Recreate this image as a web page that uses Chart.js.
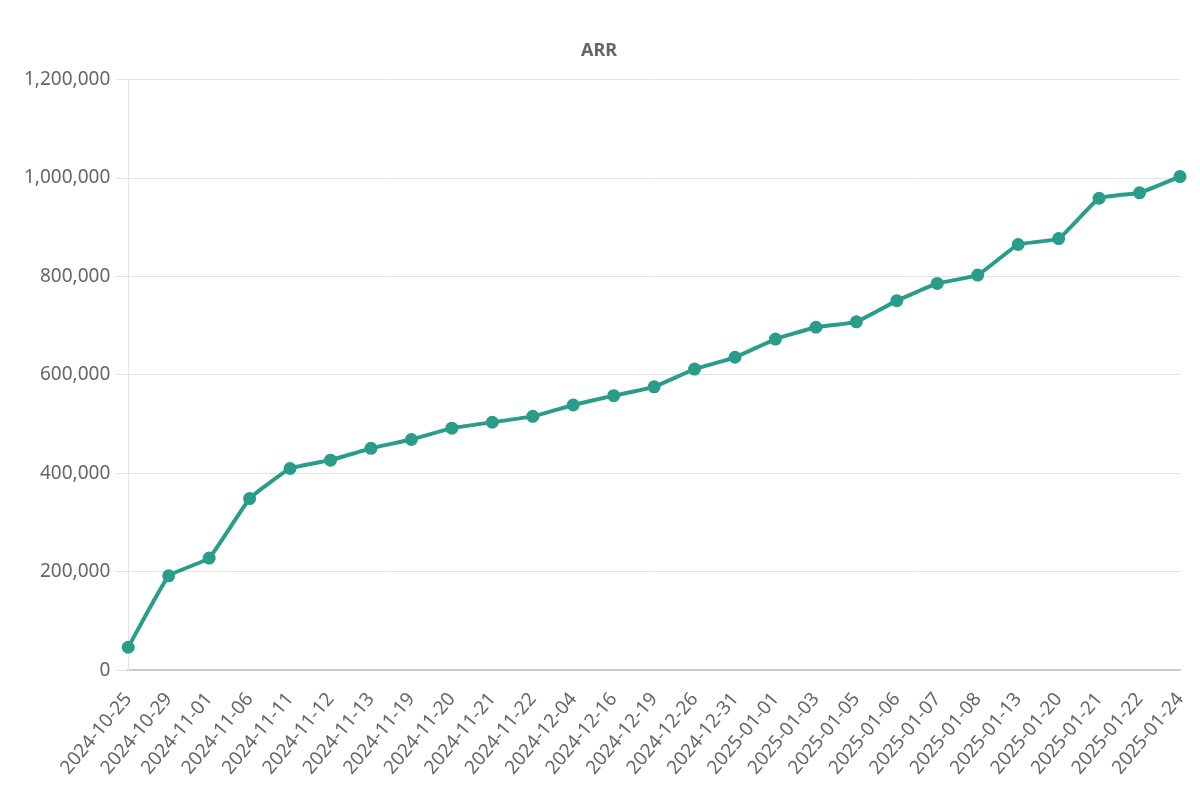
<!DOCTYPE html>
<html>
<head>
<meta charset="utf-8">
<script src="https://cdn.jsdelivr.net/npm/chart.js@4"></script>
<style>
  html, body { margin: 0; padding: 0; background: #fff; }
  #wrap { width: 1200px; height: 793px; }
</style>
</head>
<body>
<div id="wrap"><canvas id="arr-chart"></canvas></div>
<script>
const dates = [
    '2024-10-25', '2024-10-29', '2024-11-01', '2024-11-06', '2024-11-11',
    '2024-11-12', '2024-11-13', '2024-11-19', '2024-11-20', '2024-11-21',
    '2024-11-22', '2024-12-04', '2024-12-16', '2024-12-19', '2024-12-26',
    '2024-12-31', '2025-01-01', '2025-01-03', '2025-01-05', '2025-01-06',
    '2025-01-07', '2025-01-08', '2025-01-13', '2025-01-20', '2025-01-21',
    '2025-01-22', '2025-01-24'
]
const arrValues = [
    47000, 192000, 228000, 349000, 410000,
    427000, 451000, 469000, 492000, 504000,
    516000, 539000, 558000, 576000, 612000,
    636000, 673000, 697000, 708000, 751000,
    786000, 803000, 865000, 877000, 959000,
    970000, 1003000
]

const fontFamily = "'Noto Sans', 'Open Sans', sans-serif"
const textColor = '#666666'
const lineColor = '#2a9d8a'

const data = {
    labels: dates,
    datasets: [{
        label: 'ARR',
        data: arrValues,
        borderColor: lineColor,
        backgroundColor: lineColor,
        borderWidth: 4,
        pointRadius: 4.5,
        pointHoverRadius: 6,
        tension: 0.1
    }]
}

const config = {
    type: 'line',
    data: data,
    options: {
        responsive: true,
        maintainAspectRatio: false,
        animation: false,
        layout: {
            padding: { left: 18, right: 20, top: 40, bottom: 4 }
        },
        plugins: {
            legend: { display: false },
            title: {
                display: true,
                text: 'ARR',
                color: textColor,
                font: { family: fontFamily, size: 18, weight: 'bold' },
                padding: { top: 0, bottom: 18 }
            }
        },
        scales: {
            x: {
                // the last rotated label would otherwise push the axis in from the right
                afterFit: scale => { scale.paddingRight = 0 },
                grid: { display: false },
                border: { color: '#cccccc', width: 2 },
                ticks: {
                    color: textColor,
                    maxRotation: 50,
                    minRotation: 50,
                    autoSkip: false,
                    padding: 10,
                    font: { family: fontFamily, size: 19 }
                }
            },
            y: {
                min: 0,
                max: 1200000,
                grid: { color: '#e3e3e3', lineWidth: 1, tickLength: 12 },
                border: { color: '#e3e3e3' },
                ticks: {
                    stepSize: 200000,
                    color: textColor,
                    padding: 6,
                    font: { family: fontFamily, size: 19 },
                    callback: v => v.toLocaleString('en-US')
                }
            }
        }
    }
}

const myChart = new Chart(document.getElementById('arr-chart'), config)
</script>
</body>
</html>
